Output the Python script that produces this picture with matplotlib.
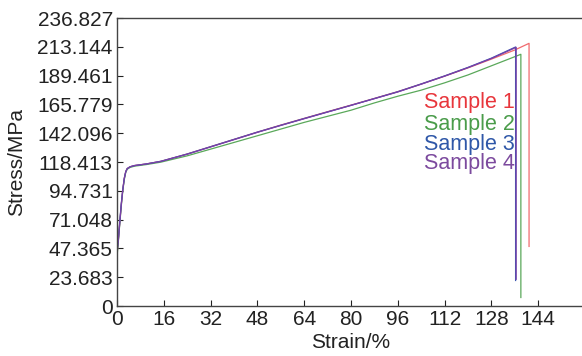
import matplotlib.pyplot as plt

plt.rcParams["font.family"] = ["Liberation Sans", "DejaVu Sans"]

# stress-strain curves
strain_1 = [0, 0.5, 1, 1.5, 2, 2.5, 3, 3.5, 4.5, 6, 10, 15, 24, 32, 40, 48, 56, 64, 72, 80,
            88, 96, 104, 112, 120, 128, 136, 140.9, 140.9]
stress_1 = [42, 55, 70, 84, 96, 105, 110.5, 113, 114.5, 115.5, 116.8, 119, 125, 131, 137, 143,
            148.8, 154.3, 159.8, 165.2, 170.7, 176.3, 182.5, 189, 195.8, 203, 210.5, 216, 49]

strain_2 = [0, 0.5, 1, 1.5, 2, 2.5, 3, 3.5, 4.5, 6, 10, 15, 24, 32, 40, 48, 56, 64, 72, 80,
            88, 96, 104, 112, 120, 128, 136, 138.1, 138.1]
stress_2 = [40, 54, 69, 83, 95, 104, 110, 112.5, 114, 115, 116.3, 118.3, 123.5, 129, 134.5, 140,
            145.5, 151, 156, 161, 167, 172.5, 177.5, 183.5, 190, 197.5, 205, 207, 7]

strain_3 = [0, 0.5, 1, 1.5, 2, 2.5, 3, 3.5, 4.5, 6, 10, 15, 24, 32, 40, 48, 56, 64, 72, 80,
            88, 96, 104, 112, 120, 128, 136.3, 136.3]
stress_3 = [44, 56, 71, 85, 96, 105, 110.5, 113, 114.5, 115.5, 116.8, 119, 125, 131, 137, 143,
            148.6, 154.2, 159.6, 165, 170.6, 176.2, 182.6, 189.2, 196.2, 203.8, 213, 21]

strain_4 = [0, 0.5, 1, 1.5, 2, 2.5, 3, 3.5, 4.5, 6, 10, 15, 24, 32, 40, 48, 56, 64, 72, 80,
            88, 96, 104, 112, 120, 128, 136.5, 136.5]
stress_4 = [43, 55, 70, 84, 96, 105, 110.5, 113, 114.5, 115.5, 116.8, 118.9, 124.8, 130.8, 136.8,
            142.8, 148.5, 154, 159.5, 165, 170.5, 176, 182.4, 189, 196, 203.5, 212.7, 22]

labels = ["Sample 1", "Sample 2", "Sample 3", "Sample 4"]
line_colors = ["#f06a6e", "#5aa85a", "#3a55b0", "#7a40a8"]
text_colors = ["#e8363c", "#4a9c4a", "#2f57a8", "#7c4a9e"]

x_ticks = [0, 16, 32, 48, 64, 80, 96, 112, 128, 144]
y_ticks = [0, 23.683, 47.365, 71.048, 94.731, 118.413, 142.096, 165.779, 189.461, 213.144, 236.827]
y_tick_labels = ["0", "23.683", "47.365", "71.048", "94.731", "118.413", "142.096",
                 "165.779", "189.461", "213.144", "236.827"]

fig = plt.figure(figsize=(5.82, 3.56), dpi=100)
ax = fig.add_axes([0.201, 0.1404, 0.804, 0.809])

series = [(strain_1, stress_1), (strain_2, stress_2), (strain_3, stress_3), (strain_4, stress_4)]
for (x, y), c in zip(series, line_colors):
    ax.plot(x, y, color=c, lw=0.9)

# labels placed next to the curve ends
label_y = [167, 149.5, 133, 117]
for lab, c, ly in zip(labels, text_colors, label_y):
    ax.text(136, ly, lab, color=c, fontsize=15.5, ha="right", va="center")

ax.set_xlim(0, 160)
ax.set_ylim(0, 236.827)
ax.set_xticks(x_ticks)
ax.set_yticks(y_ticks)
ax.set_yticklabels(y_tick_labels)
ax.tick_params(direction="in", length=4, width=0.8, labelsize=15, colors="#222222", pad=3)
for s in ["left", "bottom", "top"]:
    ax.spines[s].set_color("#444444")
    ax.spines[s].set_linewidth(1.0)
ax.spines["right"].set_visible(False)

ax.set_xlabel("Strain/%", fontsize=15, labelpad=3, color="#222222")
ax.set_ylabel("Stress/MPa", fontsize=15, labelpad=8, color="#222222")

fig.savefig("out.png", dpi=100)
